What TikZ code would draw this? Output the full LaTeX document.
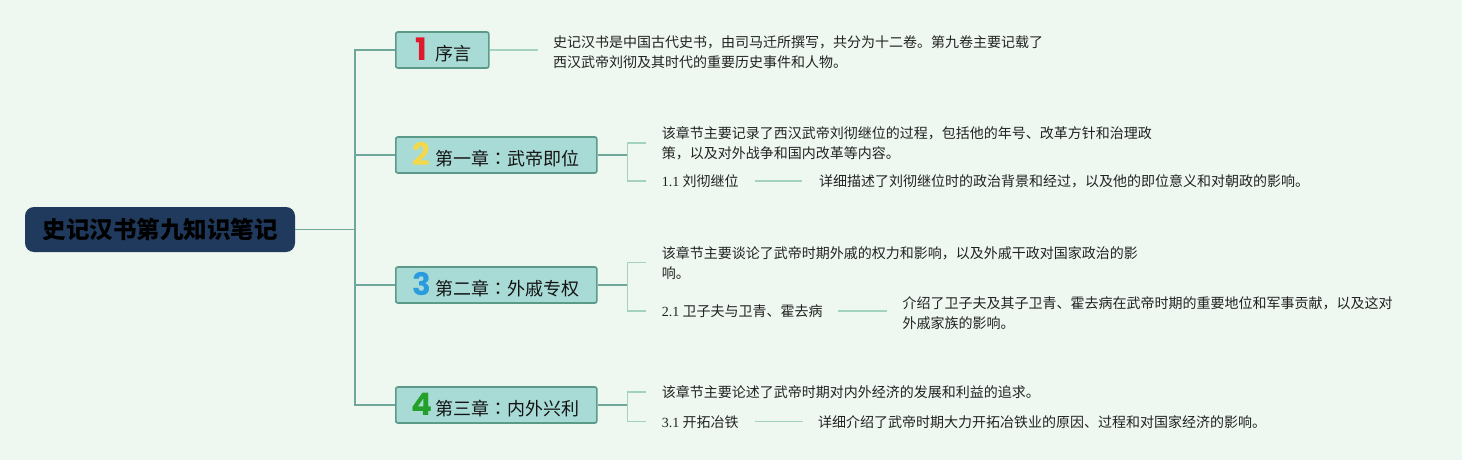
\documentclass[tikz,border=0pt]{standalone}
\usepackage{fontspec}
\setmainfont{Liberation Serif}
\newfontfamily\cjk{Noto Sans CJK SC}
\newfontfamily\cjktc{Noto Sans CJK TC}
\newfontfamily\numf{Poppins}
\definecolor{bg}{HTML}{EEF8F1}
\definecolor{rootfill}{HTML}{1F3A5C}
\definecolor{boxfill}{HTML}{A9DBD6}
\definecolor{boxline}{HTML}{5C9A88}
\definecolor{mainline}{HTML}{6FA79A}
\definecolor{subline}{HTML}{A3D2C0}
\definecolor{txt}{HTML}{222222}
\definecolor{nred}{HTML}{E0192D}
\definecolor{nyellow}{HTML}{F2D84A}
\definecolor{nblue}{HTML}{2A9BDF}
\definecolor{ngreen}{HTML}{22A02A}
\newcommand{\chaplabel}[3]{\mbox{\makebox[22pt][c]{\numf\bfseries\fontsize{31}{31}\selectfont\color{#1}#2}\hspace{3pt}#3}}
\newcommand{\fwcolon}{{\cjktc ：}}
\tikzset{
  rootbox/.style={fill=rootfill, rounded corners=9pt, minimum width=270pt, minimum height=45pt, inner sep=0pt,
    font=\cjk\bfseries\fontsize{23.5}{26}\selectfont, text=black},
  chapbox/.style={fill=boxfill, draw=boxline, line width=1.6pt, rounded corners=2pt, minimum height=36pt,
    inner xsep=15pt, inner ysep=0pt, align=left, anchor=west, font=\cjk\fontsize{18}{20}\selectfont, text=black!92},
  note/.style={anchor=base west, inner sep=0pt, align=left, font=\cjk\fontsize{14}{20}\selectfont, text=txt},
  mainc/.style={draw=mainline, line width=1.6pt},
  subc/.style={draw=subline, line width=1.5pt},
}
\begin{document}
\begin{tikzpicture}[x=1pt,y=-1pt]
\fill[bg] (0,0) rectangle (1462,460);
\useasboundingbox (0,0) rectangle (1462,460);

\node[rootbox] (root) at (160,229.5) {史记汉书第九知识笔记};

\node[chapbox, text width=63pt] (b1) at (395,50) {\chaplabel{nred}{1}{序言}};
\node[chapbox, text width=171pt] (b2) at (395,155) {\chaplabel{nyellow}{2}{第一章\fwcolon 武帝即位}};
\node[chapbox, text width=171pt] (b3) at (395,285) {\chaplabel{nblue}{3}{第二章\fwcolon 外戚专权}};
\node[chapbox, text width=171pt] (b4) at (395,405) {\chaplabel{ngreen}{4}{第三章\fwcolon 内外兴利}};

% trunk
\draw[mainc] (root.east) -- ++(60,0) coordinate (tr);
\draw[mainc] (b1.west) -| (tr);
\draw[mainc] (b2.west) -| (tr);
\draw[mainc] (b3.west) -| (tr);
\draw[mainc] (b4.west) -| (tr);

% preface
\node[note] (t1) at (553,67.3) {史记汉书是中国古代史书，由司马迁所撰写，共分为十二卷。第九卷主要记载了\\西汉武帝刘彻及其时代的重要历史事件和人物。};
\draw[subc] (b1.east) -- ([xshift=-15pt]t1.west |- b1.east);

% chapter 1
\node[note] (t2) at (661.7,158) {该章节主要记录了西汉武帝刘彻继位的过程，包括他的年号、改革方针和治理政\\策，以及对外战争和国内改革等内容。};
\node[note] (l2) at (661.7,186.3) {{\rmfamily 1.1} 刘彻继位};
\node[note] (d2) at (819,186.3) {详细描述了刘彻继位时的政治背景和经过，以及他的即位意义和对朝政的影响。};
\draw[mainc] (b2.east) -- ++(30,0) coordinate (j2);
\draw[subc] ([xshift=-16pt]t2.west) -| (j2) |- ([xshift=-16pt]l2.west);
\draw[subc] ([xshift=16pt]l2.east) -- ([xshift=-17pt]l2.east -| d2.west);

% chapter 2
\node[note] (t3) at (661.7,278) {该章节主要谈论了武帝时期外戚的权力和影响，以及外戚干政对国家政治的影\\响。};
\node[note] (l3) at (661.7,316.3) {{\rmfamily 2.1} 卫子夫与卫青、霍去病};
\node[note] (d3) at (902.4,328) {介绍了卫子夫及其子卫青、霍去病在武帝时期的重要地位和军事贡献，以及这对\\外戚家族的影响。};
\draw[mainc] (b3.east) -- ++(30,0) coordinate (j3);
\draw[subc] ([xshift=-16pt]t3.west) -| (j3) |- ([xshift=-16pt]l3.west);
\draw[subc] ([xshift=15pt]l3.east) -- ([xshift=-15pt]l3.east -| d3.west);

% chapter 3
\node[note] (t4) at (661.7,397.5) {该章节主要论述了武帝时期对内外经济的发展和利益的追求。};
\node[note] (l4) at (661.7,427) {{\rmfamily 3.1} 开拓冶铁};
\node[note] (d4) at (818,427) {详细介绍了武帝时期大力开拓冶铁业的原因、过程和对国家经济的影响。};
\draw[mainc] (b4.east) -- ++(30,0) coordinate (j4);
\draw[subc] ([xshift=-16pt]t4.west) -| (j4) |- ([xshift=-16pt]l4.west);
\draw[subc] ([xshift=16pt]l4.east) -- ([xshift=-15pt]l4.east -| d4.west);
\end{tikzpicture}
\end{document}
